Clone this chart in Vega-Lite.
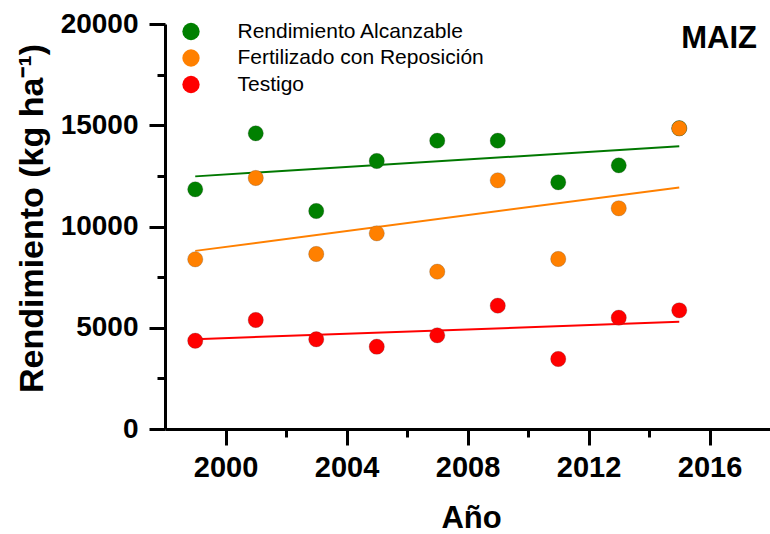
{
  "$schema": "https://vega.github.io/schema/vega-lite/v6.json",
  "width": 605,
  "height": 405,
  "autosize": {"type": "none"},
  "padding": {"left": 165, "top": 24, "right": 0, "bottom": 105},
  "background": "white",
  "config": {
    "view": {"stroke": null},
    "font": "Liberation Sans",
    "axis": {"domainColor": "black", "tickColor": "black", "domainWidth": 3, "tickWidth": 3, "grid": false, "labelColor": "black", "titleColor": "black", "labelFont": "Liberation Sans", "titleFont": "Liberation Sans", "labelFontWeight": "bold", "titleFontWeight": "bold"}
  },
  "title": {"text": "MAIZ", "anchor": "end", "frame": "group", "orient": "top", "fontSize": 31, "fontWeight": "bold", "font": "Liberation Sans", "color": "black", "baseline": "alphabetic", "offset": -69, "dx": -13},
  "data": {"values": [
    {"anio": 1999, "valor": 11837, "serie": "Rendimiento Alcanzable"},
    {"anio": 2001, "valor": 14602, "serie": "Rendimiento Alcanzable"},
    {"anio": 2003, "valor": 10765, "serie": "Rendimiento Alcanzable"},
    {"anio": 2005, "valor": 13235, "serie": "Rendimiento Alcanzable"},
    {"anio": 2007, "valor": 14237, "serie": "Rendimiento Alcanzable"},
    {"anio": 2009, "valor": 14237, "serie": "Rendimiento Alcanzable"},
    {"anio": 2011, "valor": 12183, "serie": "Rendimiento Alcanzable"},
    {"anio": 2013, "valor": 13022, "serie": "Rendimiento Alcanzable"},
    {"anio": 2015, "valor": 14850, "serie": "Rendimiento Alcanzable"},
    {"anio": 1999, "valor": 8380, "serie": "Fertilizado con Reposición"},
    {"anio": 2001, "valor": 12395, "serie": "Fertilizado con Reposición"},
    {"anio": 2003, "valor": 8642, "serie": "Fertilizado con Reposición"},
    {"anio": 2005, "valor": 9664, "serie": "Fertilizado con Reposición"},
    {"anio": 2007, "valor": 7768, "serie": "Fertilizado con Reposición"},
    {"anio": 2009, "valor": 12281, "serie": "Fertilizado con Reposición"},
    {"anio": 2011, "valor": 8395, "serie": "Fertilizado con Reposición"},
    {"anio": 2013, "valor": 10899, "serie": "Fertilizado con Reposición"},
    {"anio": 2015, "valor": 14849, "serie": "Fertilizado con Reposición"},
    {"anio": 1999, "valor": 4360, "serie": "Testigo"},
    {"anio": 2001, "valor": 5383, "serie": "Testigo"},
    {"anio": 2003, "valor": 4430, "serie": "Testigo"},
    {"anio": 2005, "valor": 4064, "serie": "Testigo"},
    {"anio": 2007, "valor": 4627, "serie": "Testigo"},
    {"anio": 2009, "valor": 6089, "serie": "Testigo"},
    {"anio": 2011, "valor": 3457, "serie": "Testigo"},
    {"anio": 2013, "valor": 5496, "serie": "Testigo"},
    {"anio": 2015, "valor": 5862, "serie": "Testigo"}
  ]},
  "resolve": {"axis": {"x": "independent", "y": "independent"}, "scale": {"color": "independent"}, "legend": {"color": "independent"}},
  "layer": [
    {
      "transform": [{"regression": "valor", "on": "anio", "groupby": ["serie"], "method": "linear", "extent": [1999, 2015]}],
      "mark": {"type": "line", "strokeWidth": 2},
      "encoding": {
        "x": {"field": "anio", "type": "quantitative", "scale": {"domain": [1998, 2018], "nice": false, "zero": false},
              "axis": {"orient": "bottom", "values": [2002, 2006, 2010, 2014], "labels": false, "domain": false, "tickSize": 8, "title": null}},
        "y": {"field": "valor", "type": "quantitative", "scale": {"domain": [0, 20000], "nice": false},
              "axis": {"orient": "left", "values": [2500, 7500, 12500, 17500], "labels": false, "domain": false, "tickSize": 8, "title": null}},
        "color": {"field": "serie", "type": "nominal", "legend": null,
                  "scale": {"domain": ["Rendimiento Alcanzable", "Fertilizado con Reposición", "Testigo"], "range": ["#007800", "#FF8000", "#FF0000"]}}
      }
    },
    {
      "mark": {"type": "point", "filled": true, "size": 235, "opacity": 1, "stroke": "#444444", "strokeWidth": 0.4, "strokeOpacity": 0.6},
      "encoding": {
        "x": {"field": "anio", "type": "quantitative",
              "axis": {"orient": "bottom", "values": [2000, 2004, 2008, 2012, 2016], "format": "d", "tickSize": 16, "labelFontSize": 29, "labelPadding": 8, "title": "Año", "titleFontSize": 31, "titleBaseline": "alphabetic", "titleX": 306, "titleY": 98}},
        "y": {"field": "valor", "type": "quantitative",
              "axis": {"orient": "left", "values": [0, 5000, 10000, 15000, 20000], "format": "d", "tickSize": 16, "labelFontSize": 28, "labelPadding": 11, "title": "Rendimiento (kg ha⁻¹)", "titleFontSize": 34, "titleBaseline": "alphabetic", "titleX": -123, "titleY": 194}},
        "color": {"field": "serie", "type": "nominal",
                  "scale": {"domain": ["Rendimiento Alcanzable", "Fertilizado con Reposición", "Testigo"], "range": ["#008000", "#FF8000", "#FF0000"]},
                  "legend": {"orient": "none", "legendX": 15.5, "legendY": -3, "title": null, "padding": 0, "symbolType": "circle", "symbolSize": 300, "symbolStrokeWidth": 0, "symbolOpacity": 1, "labelFontSize": 21, "labelFont": "Liberation Sans", "labelColor": "black", "labelOffset": 36, "rowPadding": 4.5, "labelLimit": 400}}
      }
    }
  ]
}
